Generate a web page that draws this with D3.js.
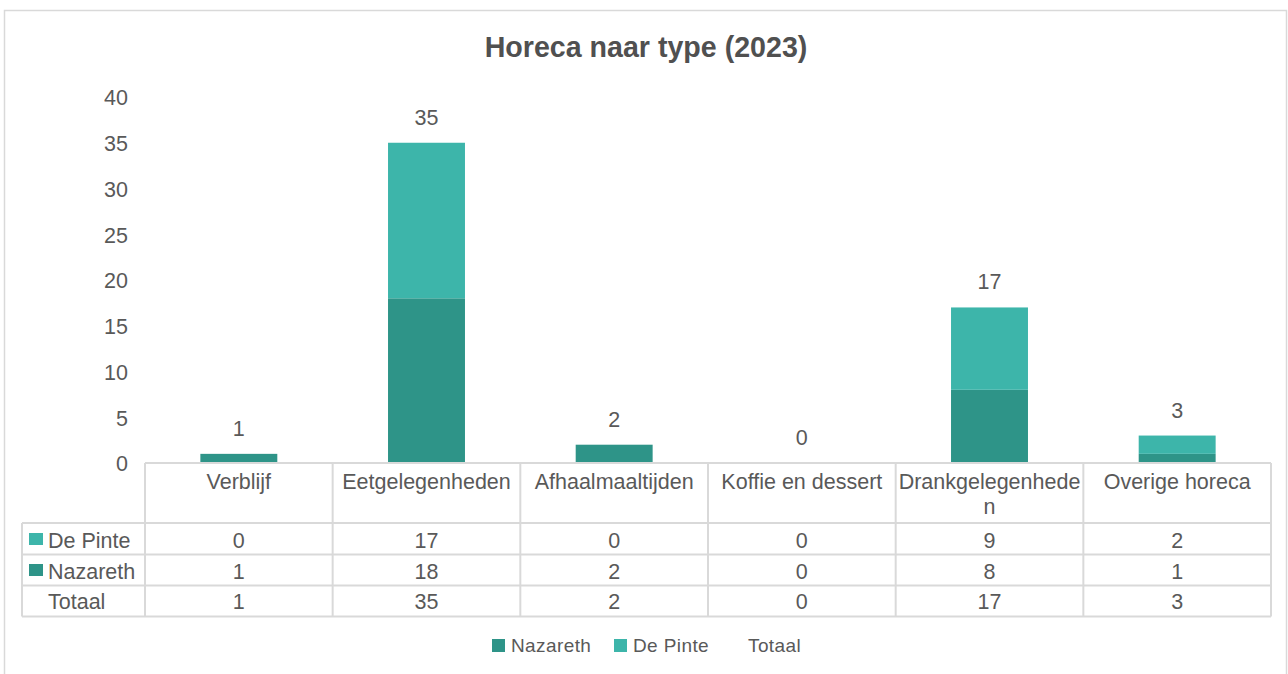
<!DOCTYPE html>
<html>
<head>
<meta charset="utf-8">
<script src="https://cdn.jsdelivr.net/npm/d3@7"></script>
<style>
  body { margin: 0; background: #fff; }
  svg { font-family: "Liberation Sans", Arial, sans-serif; }
</style>
</head>
<body>
<svg id="chart" width="1288" height="674"></svg>
<script>
// gegevens
const categories = ["Verblijf", "Eetgelegenheden", "Afhaalmaaltijden", "Koffie en dessert", "Drankgelegenheden", "Overige horeca"];
const nazareth = [1, 18, 2, 0, 8, 1];
const dePinte = [0, 17, 0, 0, 9, 2];
const totaal = [1, 35, 2, 0, 17, 3];
const yTicks = [0, 5, 10, 15, 20, 25, 30, 35, 40];

const colors = { Nazareth: "#2e9488", "De Pinte": "#3db5aa" };
const textColor = "#595959";
const gridColor = "#d9d9d9";

const svg = d3.select("#chart");

// kader rond de grafiek
svg.append("rect")
  .attr("x", 4.5).attr("y", 10.5)
  .attr("width", 1282).attr("height", 700)
  .attr("fill", "none").attr("stroke", gridColor).attr("stroke-width", 1.5);

// titel
svg.append("text")
  .attr("x", 646).attr("y", 57)
  .attr("text-anchor", "middle")
  .attr("font-size", 28.6).attr("font-weight", "bold")
  .attr("fill", "#505050")
  .text("Horeca naar type (2023)");

const x = d3.scaleBand().domain(categories).range([145, 1271]).paddingInner(0).paddingOuter(0);
const y = d3.scaleLinear().domain([0, 40]).range([463, 97]);

// y-as labels (geen lijn)
const yAxis = d3.axisLeft(y).tickValues(yTicks).tickSize(0).tickPadding(0);
const yg = svg.append("g").attr("transform", "translate(128,0)").call(yAxis);
yg.select(".domain").remove();
yg.selectAll("text")
  .attr("font-size", 21.5).attr("fill", textColor)
  .attr("font-family", "'Liberation Sans', Arial, sans-serif")
  .attr("dy", "0.36em");

// gestapelde staven
const rows = categories.map((c, i) => ({ cat: c, Nazareth: nazareth[i], "De Pinte": dePinte[i] }));
const stack = d3.stack().keys(["Nazareth", "De Pinte"]);
const series = stack(rows);
const barW = x.bandwidth() * 0.41;

svg.append("g").selectAll("g")
  .data(series)
  .join("g")
  .attr("fill", d => colors[d.key])
  .selectAll("rect")
  .data(d => d)
  .join("rect")
  .attr("x", d => x(d.data.cat) + (x.bandwidth() - barW) / 2)
  .attr("y", d => y(d[1]))
  .attr("width", barW)
  .attr("height", d => y(d[0]) - y(d[1]));

// totaal labels
svg.append("g").selectAll("text")
  .data(categories)
  .join("text")
  .attr("x", d => x(d) + x.bandwidth() / 2)
  .attr("y", (d, i) => y(totaal[i]) - 18)
  .attr("text-anchor", "middle")
  .attr("font-size", 21.5).attr("fill", textColor)
  .text((d, i) => totaal[i]);

// gegevenstabel
const table = svg.append("g").attr("stroke", gridColor).attr("stroke-width", 2).attr("fill", "none");
const rowY = [463, 523, 554.5, 585.5, 616.5];
const leftX = 22;

// horizontale lijnen
rowY.forEach((ry, i) => {
  table.append("line")
    .attr("x1", i === 0 ? x.range()[0] : leftX).attr("x2", x.range()[1])
    .attr("y1", ry).attr("y2", ry);
});
// verticale lijnen
table.append("line").attr("x1", leftX).attr("x2", leftX).attr("y1", rowY[1]).attr("y2", rowY[4]);
categories.concat([null]).forEach((c, i) => {
  const vx = c ? x(c) : x.range()[1];
  table.append("line").attr("x1", vx).attr("x2", vx).attr("y1", rowY[0]).attr("y2", rowY[4]);
});

// kolomkoppen met afbreken
const header = svg.append("g").attr("font-size", 21.5).attr("fill", textColor).attr("text-anchor", "middle");
categories.forEach(c => {
  const t = header.append("text").attr("x", x(c) + x.bandwidth() / 2).attr("y", 489);
  const maxW = x.bandwidth() - 4;
  let lines = [];
  let cur = "";
  const probe = t.append("tspan");
  for (const ch of c) {
    probe.text(cur + ch);
    if (probe.node().getComputedTextLength() > maxW && cur.length) {
      lines.push(cur);
      cur = ch;
    } else {
      cur += ch;
    }
  }
  lines.push(cur);
  probe.remove();
  lines.forEach((l, j) => {
    t.append("tspan").attr("x", x(c) + x.bandwidth() / 2).attr("dy", j === 0 ? 0 : 25).text(l);
  });
});

// tabelrijen
const tableRows = [
  { name: "De Pinte", values: dePinte, color: colors["De Pinte"], base: 548 },
  { name: "Nazareth", values: nazareth, color: colors.Nazareth, base: 579 },
  { name: "Totaal", values: totaal, color: null, base: 609 }
];
const body = svg.append("g").attr("font-size", 21.5).attr("fill", textColor);
tableRows.forEach(r => {
  if (r.color) {
    body.append("rect").attr("x", 29).attr("y", r.base - 15).attr("width", 14).attr("height", 12).attr("fill", r.color);
  }
  body.append("text").attr("x", 48).attr("y", r.base).text(r.name);
  body.selectAll(null)
    .data(categories)
    .join("text")
    .attr("x", d => x(d) + x.bandwidth() / 2)
    .attr("y", r.base)
    .attr("text-anchor", "middle")
    .text((d, i) => r.values[i]);
});

// legenda
const legendItems = [
  { name: "Nazareth", color: colors.Nazareth, sx: 492, tx: 511 },
  { name: "De Pinte", color: colors["De Pinte"], sx: 614, tx: 633 },
  { name: "Totaal", color: null, sx: 0, tx: 748 }
];
const legend = svg.append("g").attr("font-size", 19).attr("fill", textColor);
legendItems.forEach(l => {
  if (l.color) legend.append("rect").attr("x", l.sx).attr("y", 639).attr("width", 13).attr("height", 13).attr("fill", l.color);
  legend.append("text").attr("x", l.tx).attr("y", 652).attr("letter-spacing", 0.4).text(l.name);
});
</script>
</body>
</html>
